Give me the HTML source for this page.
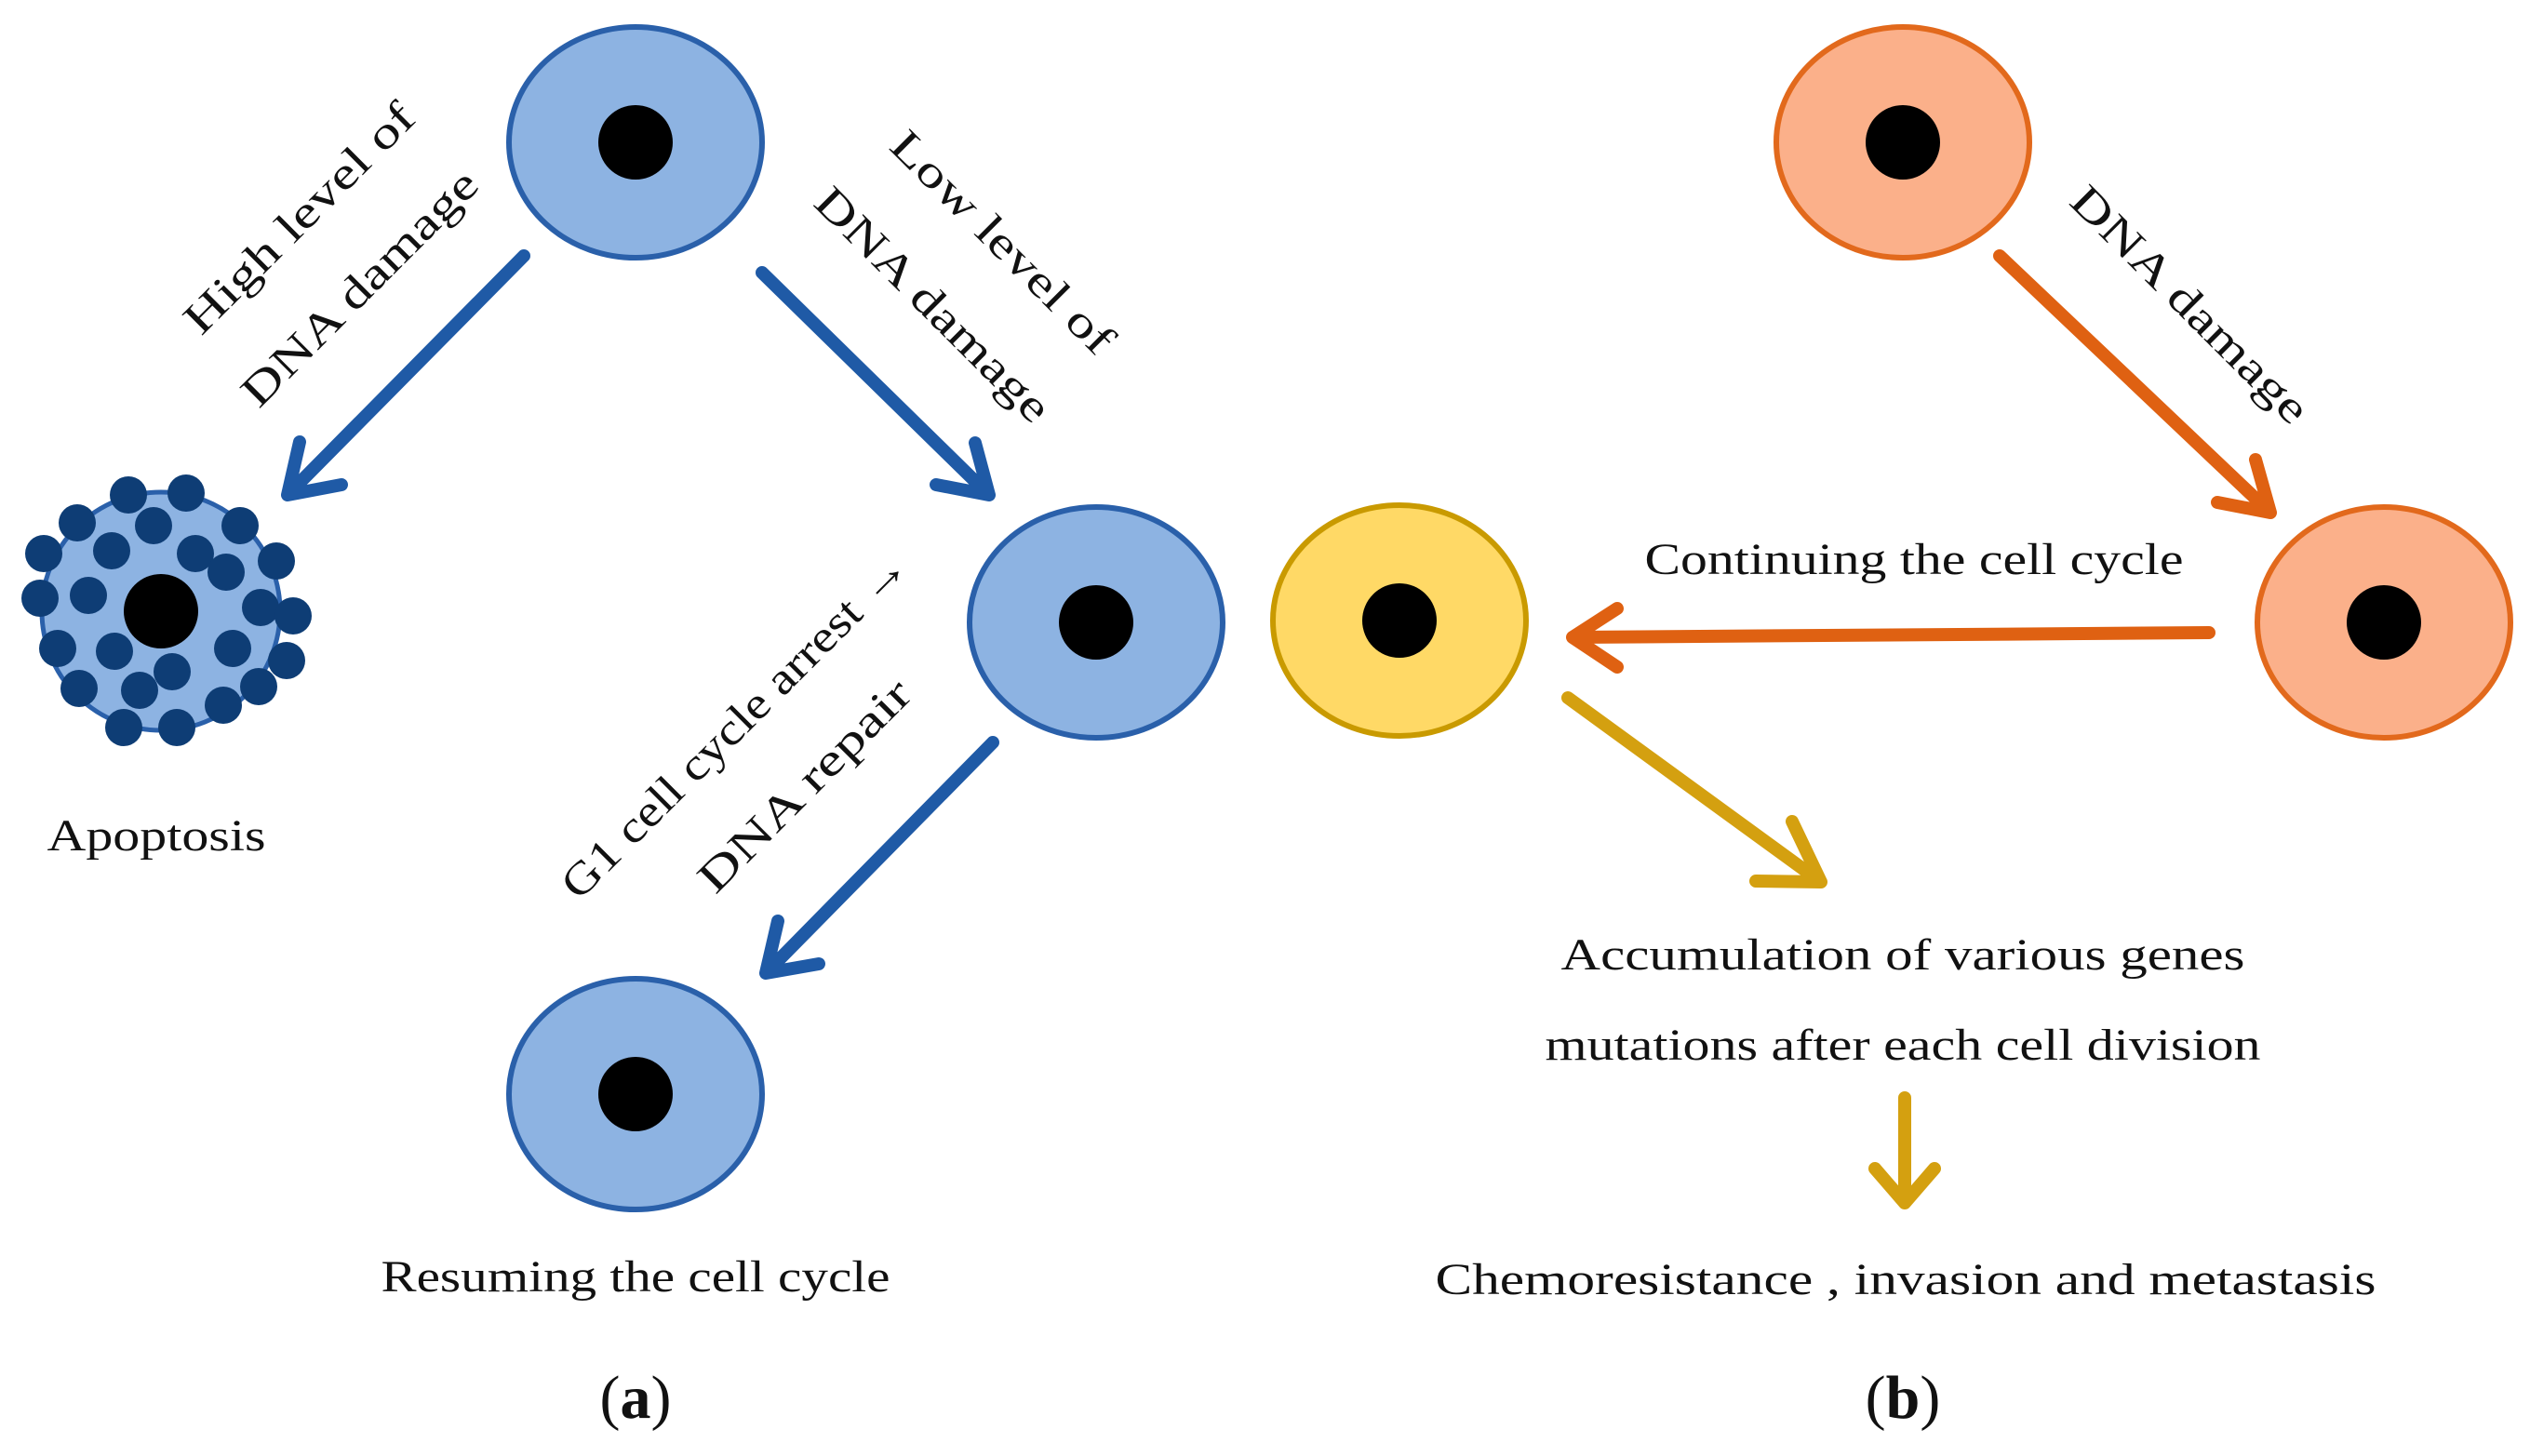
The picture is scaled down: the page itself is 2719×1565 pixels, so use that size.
<!DOCTYPE html>
<html><head><meta charset="utf-8"><style>
html,body{margin:0;padding:0;background:#fff}
svg{display:block}
text{font-family:"Liberation Serif",serif;fill:#111}
</style></head><body>
<svg width="2719" height="1565" viewBox="0 0 2719 1565" xmlns="http://www.w3.org/2000/svg">
<g stroke="#2a60aa" stroke-width="6" fill="#8db3e2">
<ellipse cx="683" cy="153" rx="136" ry="124"/>
<ellipse cx="1178" cy="669" rx="136" ry="124"/>
<ellipse cx="683" cy="1176" rx="136" ry="124"/>
</g>
<ellipse cx="1504" cy="667" rx="136" ry="124" fill="#ffd966" stroke="#c99a00" stroke-width="6"/>
<ellipse cx="2045" cy="153" rx="136" ry="124" fill="#fbb08a" stroke="#e2691c" stroke-width="6"/>
<ellipse cx="2562" cy="669" rx="136" ry="124" fill="#fbb08a" stroke="#e2691c" stroke-width="6"/>
<g fill="#000">
<circle cx="683" cy="153" r="40"/><circle cx="1178" cy="669" r="40"/><circle cx="683" cy="1176" r="40"/>
<circle cx="1504" cy="667" r="40"/><circle cx="2045" cy="153" r="40"/><circle cx="2562" cy="669" r="40"/>
</g>
<!-- apoptosis -->
<circle cx="173" cy="657" r="128" fill="#8db3e2" stroke="#2a60aa" stroke-width="5"/>
<g fill="#0e3d75">
<circle cx="138" cy="532" r="20"/><circle cx="200" cy="530" r="20"/><circle cx="83" cy="562" r="20"/><circle cx="165" cy="565" r="20"/><circle cx="258" cy="565" r="20"/><circle cx="47" cy="595" r="20"/><circle cx="120" cy="592" r="20"/><circle cx="210" cy="595" r="20"/><circle cx="243" cy="615" r="20"/><circle cx="297" cy="603" r="20"/><circle cx="43" cy="643" r="20"/><circle cx="95" cy="640" r="20"/><circle cx="280" cy="653" r="20"/><circle cx="315" cy="662" r="20"/><circle cx="62" cy="697" r="20"/><circle cx="123" cy="700" r="20"/><circle cx="185" cy="722" r="20"/><circle cx="250" cy="697" r="20"/><circle cx="308" cy="710" r="20"/><circle cx="85" cy="740" r="20"/><circle cx="150" cy="742" r="20"/><circle cx="278" cy="738" r="20"/><circle cx="133" cy="782" r="20"/><circle cx="190" cy="782" r="20"/><circle cx="240" cy="758" r="20"/>
</g>
<circle cx="173" cy="657" r="40" fill="#000"/>
<!-- arrows -->
<g fill="none" stroke-width="14" stroke-linecap="round" stroke-linejoin="round">
<g stroke="#1f5aa6">
<path d="M563 275 L309 532 M309 532 L322 475 M309 532 L367 521"/>
<path d="M819 293 L1063 532 M1063 532 L1048 476 M1063 532 L1006 521"/>
<path d="M1067 798 L823 1046 M823 1046 L836 990 M823 1046 L880 1036"/>
</g>
<g stroke="#df6112">
<path d="M2149 275 L2440 551 M2440 551 L2424 494 M2440 551 L2383 540"/>
<path d="M2374 680 L1690 685 M1690 685 L1738 654 M1690 685 L1738 717"/>
</g>
<g stroke="#d4a010">
<path d="M1685 750 L1957 948 M1957 948 L1926 883 M1957 948 L1887 947"/>
<path d="M2047 1180 L2047 1293 M2047 1293 L2015 1256 M2047 1293 L2079 1256"/>
</g>
</g>
<!-- texts -->
<g font-size="48" text-anchor="middle" lengthAdjust="spacingAndGlyphs">
<text x="168" y="914" textLength="235" lengthAdjust="spacingAndGlyphs">Apoptosis</text>
<text x="683" y="1388" textLength="547" lengthAdjust="spacingAndGlyphs">Resuming  the cell cycle</text>
<text x="2057" y="617" textLength="579" lengthAdjust="spacingAndGlyphs">Continuing  the cell cycle</text>
<text x="2045" y="1042" textLength="735" lengthAdjust="spacingAndGlyphs">Accumulation  of various  genes</text>
<text x="2045" y="1139" textLength="769" lengthAdjust="spacingAndGlyphs">mutations  after each cell division</text>
<text x="2048" y="1391" textLength="1011" lengthAdjust="spacingAndGlyphs">Chemoresistance , invasion  and  metastasis</text>
<text x="322" y="235" transform="rotate(-45 322 235)" dy="15" textLength="329" lengthAdjust="spacingAndGlyphs">High level of</text>
<text x="387" y="310" transform="rotate(-45 387 310)" dy="15" textLength="338" lengthAdjust="spacingAndGlyphs">DNA damage</text>
<text x="1077" y="261" transform="rotate(45 1077 261)" dy="15" textLength="318" lengthAdjust="spacingAndGlyphs">Low level of</text>
<text x="1002" y="328" transform="rotate(45 1002 328)" dy="15" textLength="336" lengthAdjust="spacingAndGlyphs">DNA damage</text>
<text x="790" y="780" transform="rotate(-45 790 780)" dy="15" textLength="505" lengthAdjust="spacingAndGlyphs">G1 cell cycle arrest →</text>
<text x="865" y="845" transform="rotate(-45 865 845)" dy="15" textLength="302" lengthAdjust="spacingAndGlyphs">DNA repair</text>
<text x="2353" y="328" transform="rotate(45 2353 328)" dy="15" textLength="340" lengthAdjust="spacingAndGlyphs">DNA damage</text>
</g>
<g font-size="66" text-anchor="middle">
<text x="683" y="1524">(<tspan font-weight="bold">a</tspan>)</text>
<text x="2045" y="1524">(<tspan font-weight="bold">b</tspan>)</text>
</g>
</svg>
</body></html>
